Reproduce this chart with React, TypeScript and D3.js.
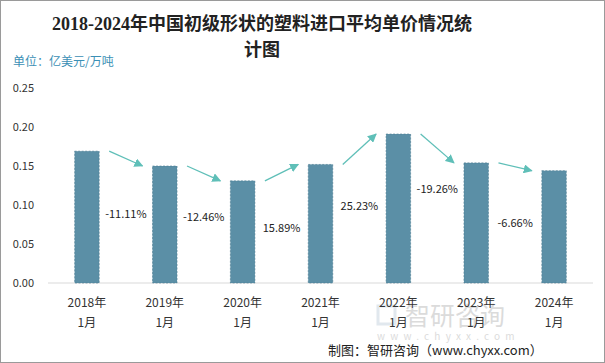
import React from "react";
import * as d3 from "d3";

const categories = ["2018年|1月", "2019年|1月", "2020年|1月", "2021年|1月", "2022年|1月", "2023年|1月", "2024年|1月"];
const prices = [0.169, 0.150, 0.131, 0.152, 0.191, 0.154, 0.144];
const growthLabels = ["-11.11%", "-12.46%", "15.89%", "25.23%", "-19.26%", "-6.66%"];
const growthLabelLevel = [0.088, 0.085, 0.071, 0.099, 0.121, 0.077];
const yTicks = [0, 0.05, 0.1, 0.15, 0.2, 0.25];

const W = 605;
const H = 363;
const margin = { left: 48, right: 12, top: 88, bottom: 80 };

export default function App() {
  const x = d3
    .scaleBand<string>()
    .domain(categories)
    .range([margin.left, W - margin.right])
    .paddingInner(0.685)
    .paddingOuter(0.3425);
  const y = d3.scaleLinear().domain([0, 0.25]).range([H - margin.bottom, margin.top]);
  const bw = x.bandwidth();
  const arrowColor = "#5fbfb8";
  const barColor = "#5b8fa6";
  const font = "'Noto Sans CJK SC', 'Noto Sans', sans-serif";

  return (
    <svg
      width={W}
      height={H}
      style={{ position: "absolute", left: 0, top: 0, background: "#fff" }}
      fontFamily={font}
    >
      <defs>
        <marker id="ah" viewBox="0 0 10 10" refX="9" refY="5" markerWidth="9" markerHeight="9" markerUnits="userSpaceOnUse" orient="auto">
          <path d="M0,0 L10,5 L0,10 z" fill={arrowColor} />
        </marker>
      </defs>
      <rect x={0.5} y={0.5} width={W - 1} height={H - 1} fill="#fff" stroke="#9a9a9a" />
      <text x={262} y={30} textAnchor="middle" fontSize={18} fontWeight="bold" fill="#222" fontFamily="'Liberation Serif', 'Noto Sans CJK SC', serif">
        2018-2024年中国初级形状的塑料进口平均单价情况统
      </text>
      <text x={262} y={56} textAnchor="middle" fontSize={18} fontWeight="bold" fill="#222" fontFamily="'Liberation Serif', 'Noto Sans CJK SC', serif">
        计图
      </text>
      <text x={13} y={66} fontSize={12} fill="#3b8fb5">单位：亿美元/万吨</text>

      {/* watermark */}
      <g opacity={0.3}>
        <rect x={378} y={306} width={17} height={18} fill="none" stroke="#9fb4c8" strokeWidth={3} />
        <text x={405} y={325} fontSize={25} fill="#8a8a8a">智研咨询</text>
        <text x={377} y={340} fontSize={10} fill="#8a8a8a" letterSpacing={5.2}>www.chyxx.com</text>
      </g>

      {yTicks.map((t) => (
        <text key={t} x={34} y={y(t) + 4} textAnchor="end" fontSize={11} fill="#333">
          {t.toFixed(2)}
        </text>
      ))}
      <line x1={margin.left} x2={W - margin.right} y1={y(0)} y2={y(0)} stroke="#d9d9d9" strokeWidth={1} />

      {categories.map((c, i) => (
        <rect
          key={c}
          x={x(c)}
          y={y(prices[i])}
          width={bw}
          height={y(0) - y(prices[i])}
          fill={barColor}
          stroke="#4a7a90"
          strokeWidth={0.6}
          strokeDasharray="2,1.5"
        />
      ))}

      {categories.map((c, i) => {
        const [a, b] = c.split("|");
        const cx = (x(c) as number) + bw / 2;
        return (
          <g key={"l" + c}>
            <text x={cx} y={307} textAnchor="middle" fontSize={12} fill="#333">{a}</text>
            <text x={cx} y={327} textAnchor="middle" fontSize={12} fill="#333">{b}</text>
          </g>
        );
      })}

      {growthLabels.map((g, i) => {
        const c0 = categories[i];
        const c1 = categories[i + 1];
        const x0 = (x(c0) as number) + bw + 10;
        const x1 = (x(c1) as number) - 10;
        const mid = ((x(c0) as number) + (x(c1) as number)) / 2 + bw / 2;
        return (
          <g key={"g" + i}>
            <line x1={x0} y1={y(prices[i])} x2={x1} y2={y(prices[i + 1])} stroke={arrowColor} strokeWidth={1.3} markerEnd="url(#ah)" />
            <text x={mid} y={y(growthLabelLevel[i]) + 4} textAnchor="middle" fontSize={11} fill="#222">{g}</text>
          </g>
        );
      })}

      <text x={328} y={355} fontSize={13} fill="#222">制图：智研咨询（www.chyxx.com）</text>
    </svg>
  );
}
